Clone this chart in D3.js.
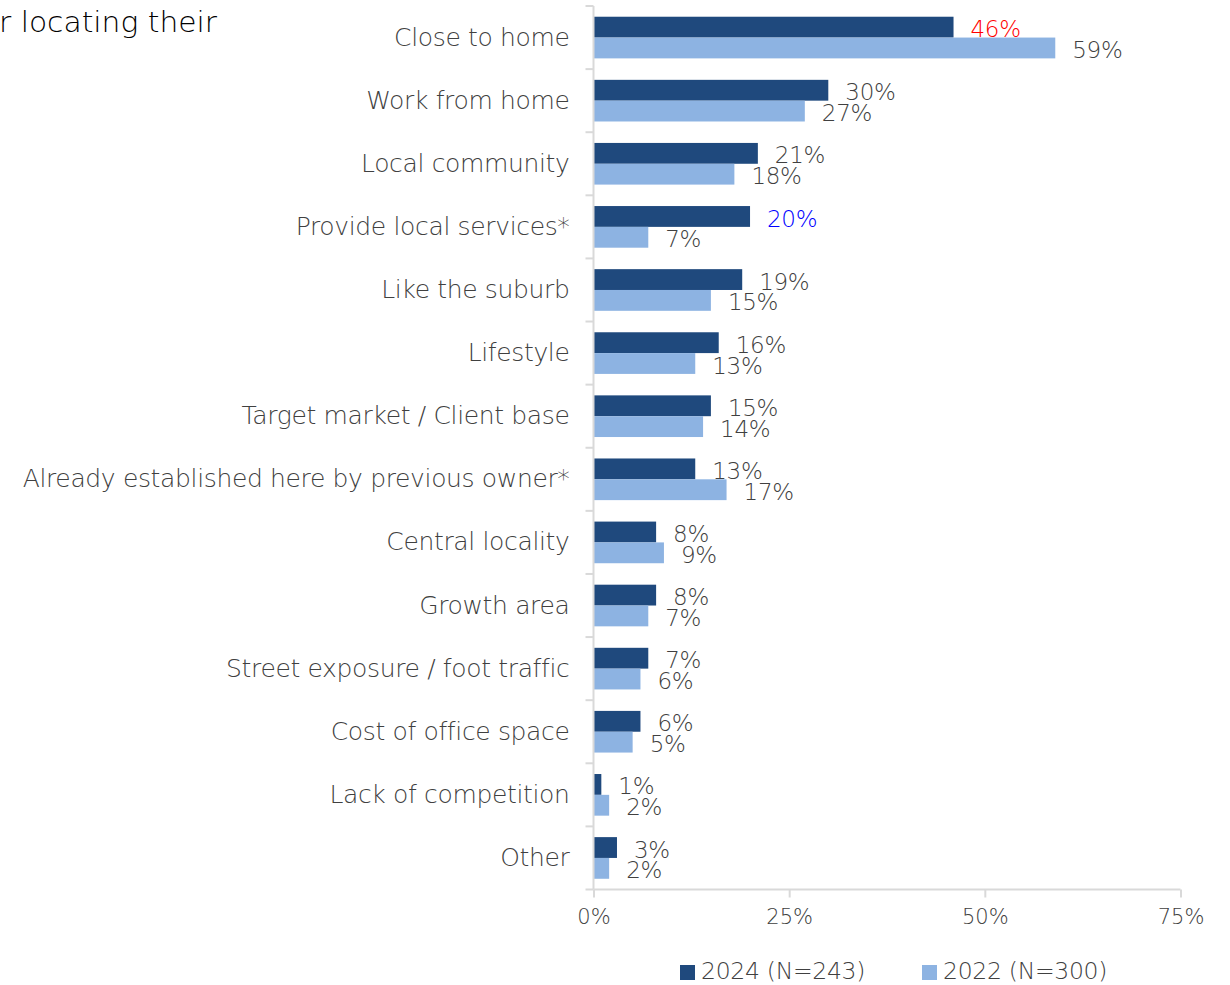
<!DOCTYPE html>
<html>
<head>
<meta charset="utf-8">
<script src="https://cdn.jsdelivr.net/npm/d3@7"></script>
<style>
  html, body { margin: 0; padding: 0; background: #fff; }
  svg { display: block; }
  text { font-family: "DejaVu Sans", sans-serif; font-weight: 300; }
</style>
</head>
<body>
<svg id="chart" width="1230" height="985"></svg>
<script>
// Reasons for choosing the business location, share of respondents
const categories = [
  "Close to home",
  "Work from home",
  "Local community",
  "Provide local services*",
  "Like the suburb",
  "Lifestyle",
  "Target market / Client base",
  "Already established here by previous owner*",
  "Central locality",
  "Growth area",
  "Street exposure / foot traffic",
  "Cost of office space",
  "Lack of competition",
  "Other"
];
const values2024 = [46, 30, 21, 20, 19, 16, 15, 13, 8, 8, 7, 6, 1, 3];
const values2022 = [59, 27, 18, 7, 15, 13, 14, 17, 9, 7, 6, 5, 2, 2];
const seriesNames = ["2024 (N=243)", "2022 (N=300)"];
const xTicks = [0, 25, 50, 75];
// highlighted labels on the 2024 series
const labelColors2024 = { 0: "#ff0000", 3: "#0000ff" };

const colors = ["#1f497d", "#8db3e2"];
const textColor = "#404040";
const font = "'DejaVu Sans', sans-serif";

const svg = d3.select("#chart");

const plot = { left: 593.5, right: 1180.5, top: 6, bottom: 889.5 };

const x = d3.scaleLinear().domain([0, 75]).range([plot.left, plot.right]);
const y = d3.scaleBand().domain(categories).range([plot.top, plot.bottom]).paddingInner(0.34).paddingOuter(0.17);
const sub = d3.scaleBand().domain([0, 1]).range([0, y.bandwidth()]);

// title fragment, running off the left edge
svg.append("text")
  .attr("x", -1).attr("y", 32)
  .attr("font-size", 28)
  .attr("textLength", 218)
  .attr("lengthAdjust", "spacingAndGlyphs")
  .attr("fill", "#000")
  .text("r locating their");

// bars
const rows = categories.map((c, i) => ({ c, i, v: [values2024[i], values2022[i]] }));
const g = svg.append("g");
rows.forEach(r => {
  r.v.forEach((v, s) => {
    g.append("rect")
      .attr("x", x(0))
      .attr("y", y(r.c) + sub(s))
      .attr("width", x(v) - x(0))
      .attr("height", sub.bandwidth())
      .attr("fill", colors[s]);
  });
});

// value labels
rows.forEach(r => {
  r.v.forEach((v, s) => {
    const col = s === 0 && labelColors2024[r.i] ? labelColors2024[r.i] : textColor;
    g.append("text")
      .attr("x", x(v) + 17)
      .attr("y", y(r.c) + sub(s) + sub.bandwidth() / 2 + 2)
      .attr("dy", "0.35em")
      .attr("font-size", 23)
      .attr("letter-spacing", -0.3)
      .attr("fill", col)
      .text(v + "%");
  });
});

// category axis
const yAxis = d3.axisLeft(y).tickSize(0).tickPadding(24);
const ya = svg.append("g").attr("transform", `translate(${plot.left},0)`).call(yAxis);
ya.select(".domain").remove();
ya.selectAll("text")
  .attr("font-size", 25)
  .attr("letter-spacing", -0.35)
  .attr("fill", textColor)
  .attr("font-family", font);

// vertical axis line with boundary ticks
const axisColor = "#d9d9d9";
svg.append("line")
  .attr("x1", plot.left).attr("x2", plot.left)
  .attr("y1", plot.top).attr("y2", plot.bottom)
  .attr("stroke", axisColor).attr("stroke-width", 2);
d3.range(categories.length + 1).forEach(k => {
  const yy = plot.top + k * (plot.bottom - plot.top) / categories.length;
  svg.append("line")
    .attr("x1", plot.left - 8).attr("x2", plot.left)
    .attr("y1", yy).attr("y2", yy)
    .attr("stroke", axisColor).attr("stroke-width", 2);
});

// value axis
const xAxis = d3.axisBottom(x).tickValues(xTicks).tickSize(8).tickPadding(12).tickFormat(d => d + "%");
const xa = svg.append("g").attr("transform", `translate(0,${plot.bottom})`).call(xAxis);
xa.select(".domain").attr("stroke", axisColor).attr("stroke-width", 2).attr("d", `M${plot.left},0H${plot.right}`);
xa.selectAll(".tick line").attr("stroke", axisColor).attr("stroke-width", 2);
xa.selectAll("text").attr("font-size", 21).attr("fill", textColor).attr("font-family", font);

// legend
const legend = svg.append("g");
const legendX = [680, 922];
seriesNames.forEach((name, s) => {
  legend.append("rect")
    .attr("x", legendX[s]).attr("y", 965)
    .attr("width", 15).attr("height", 15)
    .attr("fill", colors[s]);
  legend.append("text")
    .attr("x", legendX[s] + 21).attr("y", 971)
    .attr("dy", "0.35em")
    .attr("font-size", 23.5)
    .attr("letter-spacing", -0.3)
    .attr("fill", textColor)
    .text(name);
});
</script>
</body>
</html>
